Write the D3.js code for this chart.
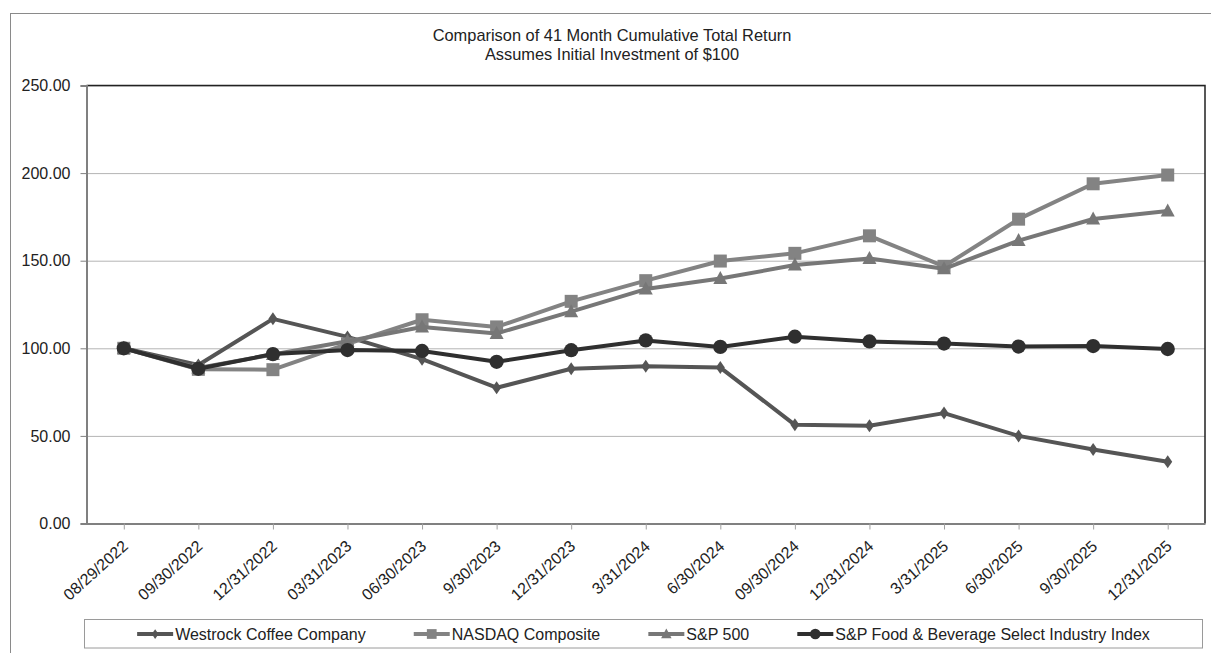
<!DOCTYPE html>
<html>
<head>
<meta charset="utf-8">
<script src="https://cdn.jsdelivr.net/npm/d3@7"></script>
<style>
  body { margin: 0; background: #fff; }
  svg { display: block; font-family: "Liberation Sans", Arial, sans-serif; }
  .grid line { stroke: #b4b4b4; stroke-width: 1; }
  .grid path { display: none; }
</style>
</head>
<body>
<svg width="1211" height="653"></svg>
<script>
// period end dates
var dates = ["08/29/2022", "09/30/2022", "12/31/2022", "03/31/2023", "06/30/2023", "9/30/2023",
  "12/31/2023", "3/31/2024", "6/30/2024", "09/30/2024", "12/31/2024", "3/31/2025",
  "6/30/2025", "9/30/2025", "12/31/2025"];

var westrock = [100, 90.5, 116.8, 106.5, 93.8, 77.5, 88.3, 89.8, 89.0, 56.3, 55.8, 63.0, 50.0, 42.2, 35.3];
var nasdaq   = [100, 88.0, 87.8, 102.5, 116.3, 112.2, 126.8, 138.6, 149.8, 154.2, 164.2, 146.8, 173.7, 193.9, 198.9];
var sp500    = [100, 88.8, 96.5, 104.0, 112.2, 108.5, 120.9, 133.8, 139.8, 147.5, 151.3, 145.4, 161.5, 173.8, 178.4];
var foodBev  = [100, 88.3, 96.7, 99.0, 98.5, 92.3, 98.9, 104.5, 100.8, 106.6, 103.9, 102.7, 101.0, 101.3, 99.6];

var seriesNames = ["Westrock Coffee Company", "NASDAQ Composite", "S&P 500", "S&P Food & Beverage Select Industry Index"];
var yTicks = [0, 50, 100, 150, 200, 250];

var series = [
  { name: seriesNames[0], values: westrock, color: "#555555", marker: "diamond" },
  { name: seriesNames[1], values: nasdaq,   color: "#838383", marker: "square" },
  { name: seriesNames[2], values: sp500,    color: "#777777", marker: "triangle" },
  { name: seriesNames[3], values: foodBev,  color: "#2f2f2f", marker: "circle" }
];

var svg = d3.select("svg");
var margin = { top: 85.5, left: 86.5, right: 6, bottom: 129.5 };
var width = 1211 - margin.left - margin.right,
    height = 653 - margin.top - margin.bottom;

// outer frame (runs off the right/bottom edge)
svg.append("rect")
  .attr("x", 10.5).attr("y", 13.5)
  .attr("width", 1300).attr("height", 800)
  .attr("fill", "none").attr("stroke", "#8a8a8a").attr("stroke-width", 1);

// title
var title = svg.append("text")
  .attr("x", 612).attr("y", 41)
  .attr("text-anchor", "middle")
  .attr("font-size", 16.4).attr("fill", "#222");
title.append("tspan").attr("x", 612).text("Comparison of 41 Month Cumulative Total Return");
title.append("tspan").attr("x", 612).attr("dy", 19).text("Assumes Initial Investment of $100");

var g = svg.append("g").attr("transform", "translate(" + margin.left + "," + margin.top + ")");

var x = d3.scalePoint().domain(dates).range([0, width]).padding(0.5);
var y = d3.scaleLinear().domain([0, 250]).range([height, 0]);

// gridlines
g.append("g").attr("class", "grid")
  .call(d3.axisLeft(y).tickValues(yTicks).tickSize(-width).tickFormat(""));

// top and right border of plot
g.append("path")
  .attr("d", "M0,0H" + width + "V" + height)
  .attr("fill", "none").attr("stroke", "#222").attr("stroke-width", 1.5);

// y axis
var yAxis = g.append("g")
  .call(d3.axisLeft(y).tickValues(yTicks).tickSize(6).tickPadding(10).tickFormat(d3.format(".2f")));
yAxis.select(".domain").attr("stroke", "#808080").attr("stroke-width", 2);
yAxis.selectAll(".tick line").attr("stroke", "#808080");
yAxis.selectAll("text").attr("font-size", 16).attr("fill", "#222")
  .attr("font-family", "Liberation Sans, Arial, sans-serif");

// x axis
var xAxis = g.append("g")
  .attr("transform", "translate(0," + height + ")")
  .call(d3.axisBottom(x).tickSize(6).tickSizeOuter(0));
xAxis.select(".domain").attr("stroke", "#808080").attr("stroke-width", 2);
xAxis.selectAll(".tick line").attr("stroke", "#a0a0a0");
xAxis.selectAll("text")
  .attr("font-size", 16).attr("fill", "#222")
  .attr("font-family", "Liberation Sans, Arial, sans-serif")
  .attr("text-anchor", "end")
  .attr("x", 0).attr("y", 0).attr("dy", "0.35em")
  .attr("transform", "translate(1,20) rotate(-42)");

var line = d3.line()
  .x(function (d, i) { return x(dates[i]); })
  .y(function (d) { return y(d); });

function markerPath(type) {
  if (type === "diamond") return "M0,-6.5L4.5,0L0,6.5L-4.5,0Z";
  if (type === "square") return "M-6.5,-6.5H6.5V6.5H-6.5Z";
  if (type === "triangle") return "M0,-7.5L7,5.5H-7Z";
  return d3.symbol().type(d3.symbolCircle).size(160)();
}

series.forEach(function (s) {
  var sg = g.append("g");
  sg.append("path")
    .datum(s.values)
    .attr("d", line)
    .attr("fill", "none")
    .attr("stroke", s.color)
    .attr("stroke-width", 4)
    .attr("stroke-linejoin", "round");
  sg.selectAll(".mk")
    .data(s.values)
    .enter().append("path")
    .attr("class", "mk")
    .attr("transform", function (d, i) { return "translate(" + x(dates[i]) + "," + y(d) + ")"; })
    .attr("d", markerPath(s.marker))
    .attr("fill", s.color);
});

// legend
var legend = svg.append("g");
legend.append("rect")
  .attr("x", 84.5).attr("y", 619.5)
  .attr("width", 1118).attr("height", 28.5)
  .attr("fill", "#fff").attr("stroke", "#9a9a9a").attr("stroke-width", 1);

var items = legend.selectAll(".item")
  .data(series)
  .enter().append("g").attr("class", "item");
items.append("line")
  .attr("x1", 0).attr("x2", 36).attr("y1", 0).attr("y2", 0)
  .attr("stroke", function (d) { return d.color; })
  .attr("stroke-width", 4);
items.append("path")
  .attr("transform", "translate(18,0) scale(0.75)")
  .attr("d", function (d) { return markerPath(d.marker); })
  .attr("fill", function (d) { return d.color; });
items.append("text")
  .attr("x", 38).attr("dy", "0.35em")
  .attr("font-size", 16).attr("fill", "#222")
  .text(function (d) { return d.name; });

var gap = 48, widths = [];
items.each(function () { widths.push(this.getBBox().width); });
var total = d3.sum(widths) + gap * (widths.length - 1);
var cx = 84.5 + 1118 / 2 - total / 2;
items.attr("transform", function (d, i) {
  var tx = cx;
  cx += widths[i] + gap;
  return "translate(" + tx + ",634)";
});
</script>
</body>
</html>
